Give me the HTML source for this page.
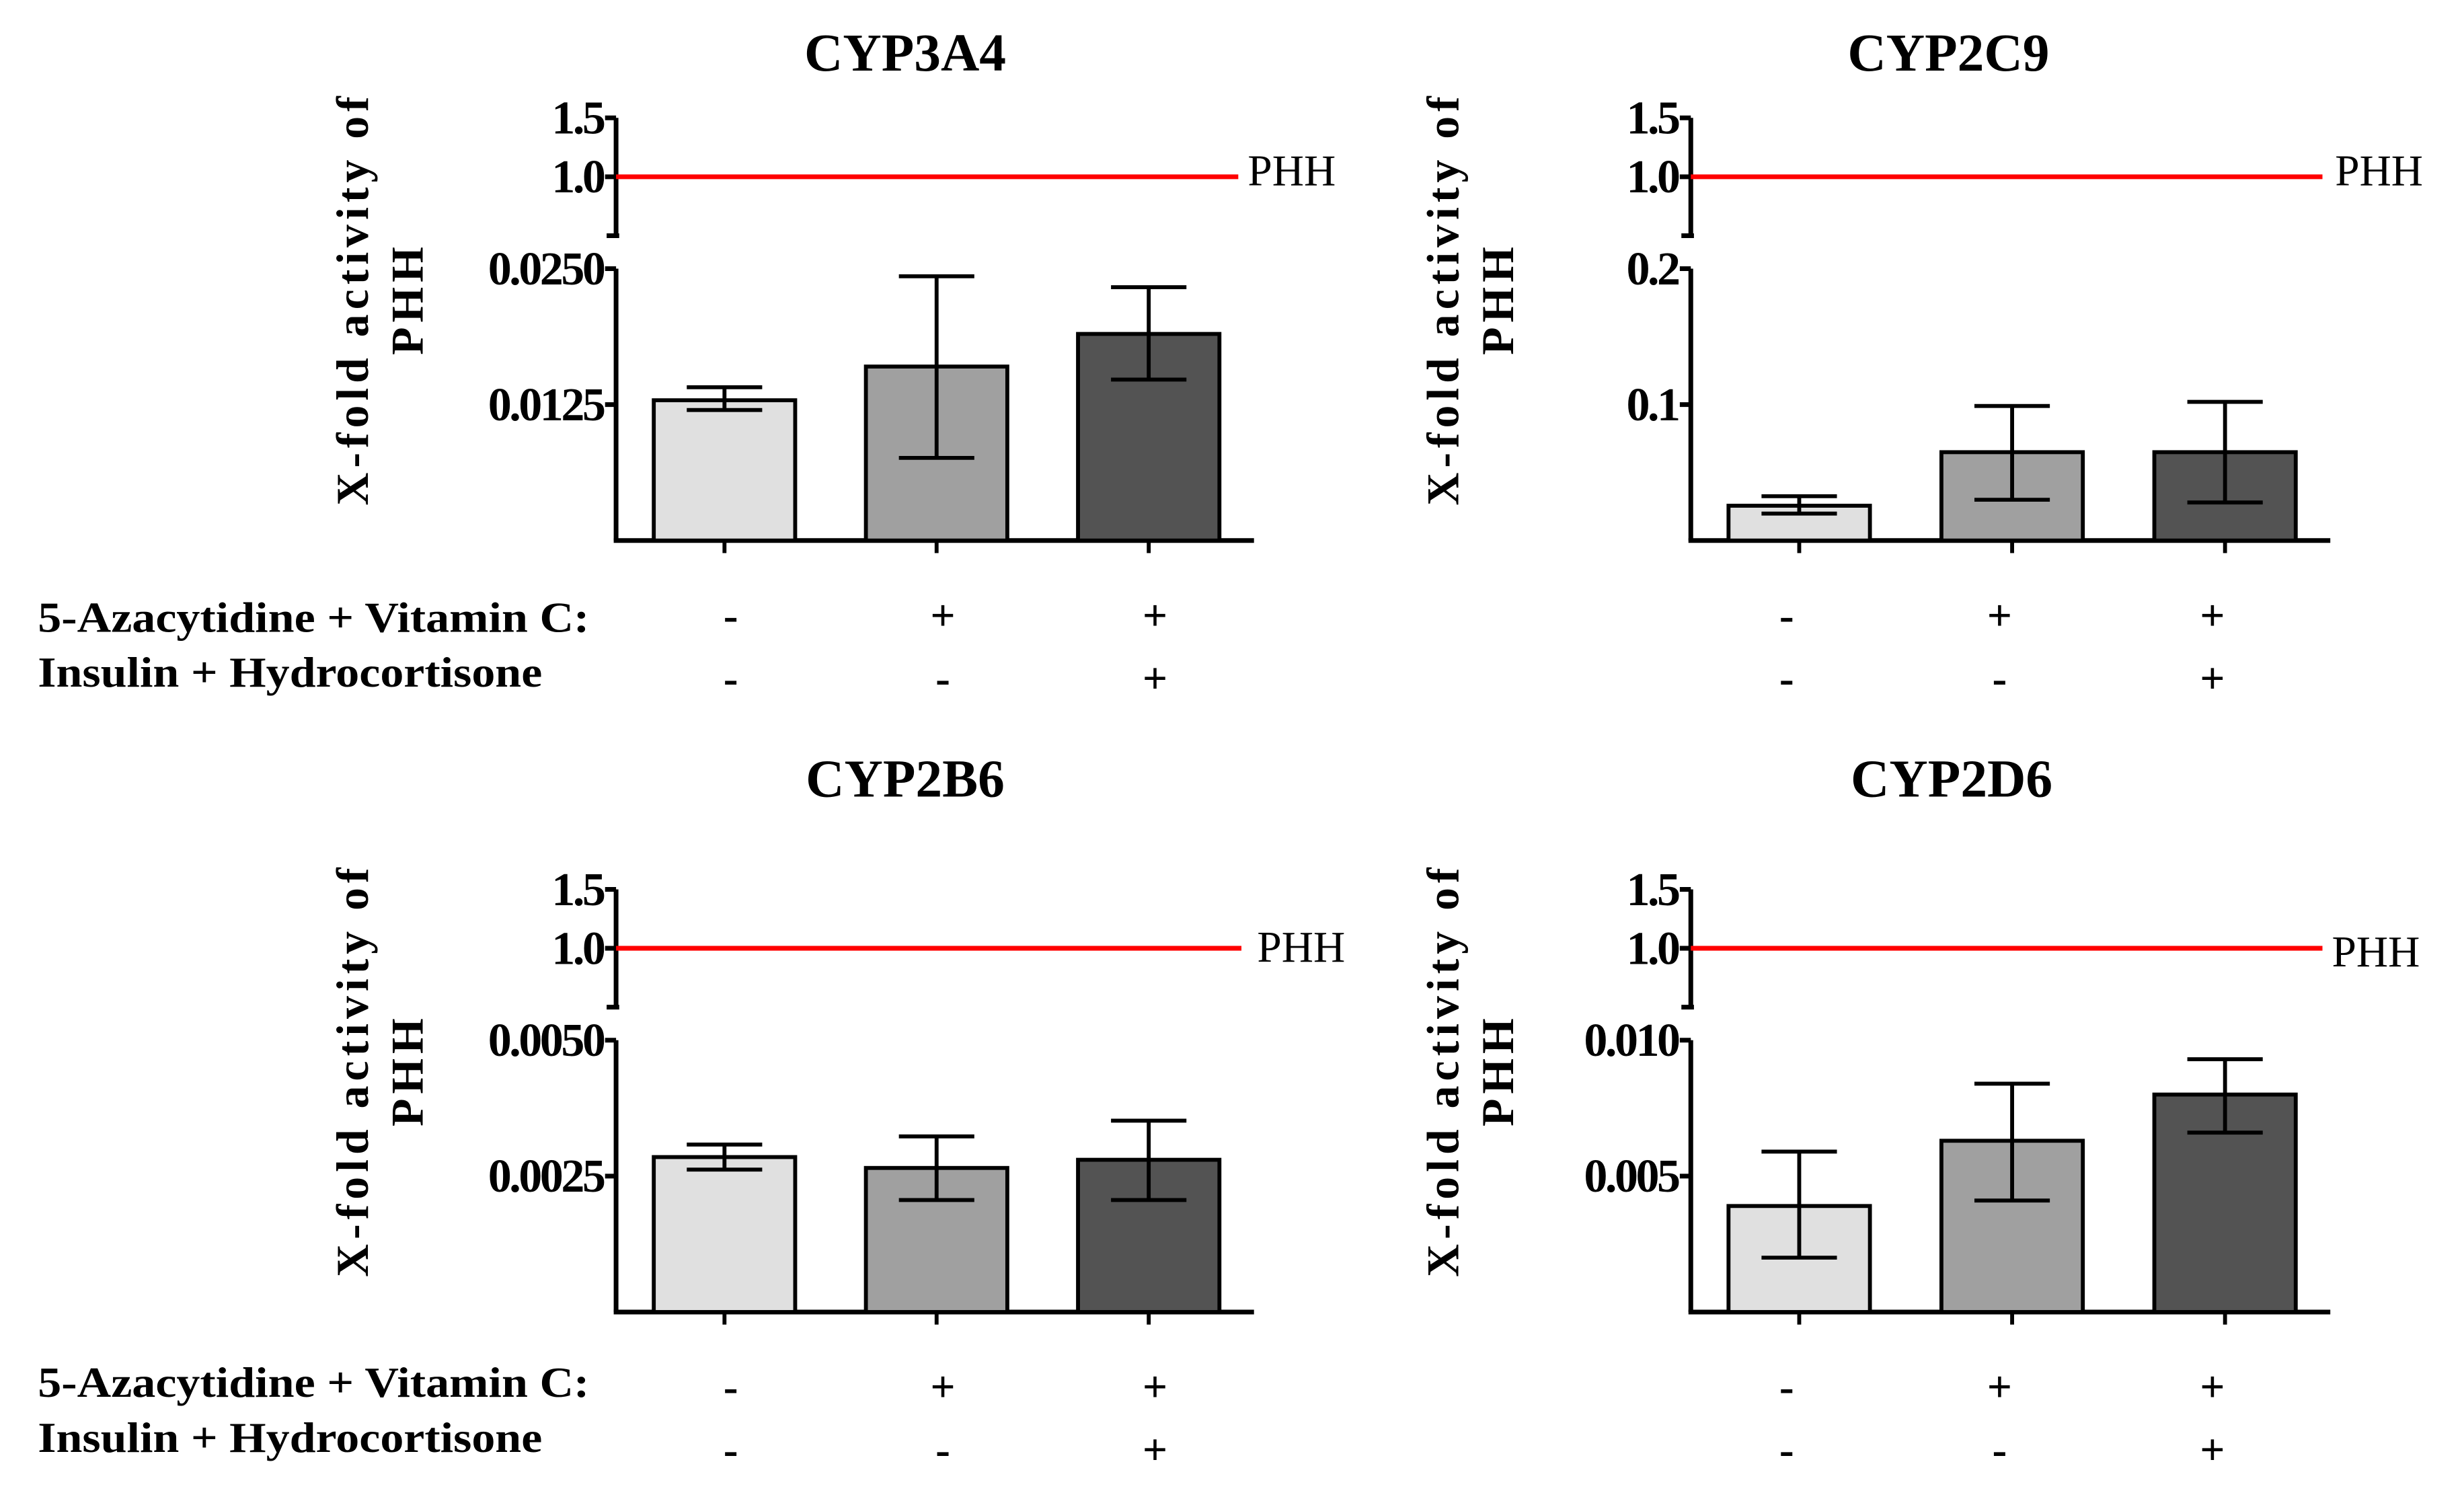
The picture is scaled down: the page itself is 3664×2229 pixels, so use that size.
<!DOCTYPE html>
<html><head><meta charset="utf-8"><style>
html,body{margin:0;padding:0;background:#fff;}
svg{display:block;}
text{font-family:"Liberation Serif",serif;}
</style></head>
<body>
<svg id="fig" width="3664" height="2229" viewBox="0 0 1568 954" xmlns="http://www.w3.org/2000/svg"></svg>
<script>
// ---- data ----
const panelTitles = ["CYP3A4","CYP2C9","CYP2B6","CYP2D6"];
const lowerMax = [0.025, 0.2, 0.005, 0.010];
const lowerTickVals = [[0.0125,0.025],[0.1,0.2],[0.0025,0.005],[0.005,0.010]];
const lowerTickLabels = [["0.0125","0.0250"],["0.1","0.2"],["0.0025","0.0050"],["0.005","0.010"]];
const upperTickVals = [1.0, 1.5];
const upperTickLabels = ["1.0","1.5"];
const phhValue = 1.0;
const meanCYP3A4 = [0.0129, 0.0160, 0.0190];
const errHiCYP3A4 = [0.0141, 0.0243, 0.0233];
const errLoCYP3A4 = [0.0120, 0.0076, 0.0148];
const meanCYP2C9 = [0.0256, 0.065, 0.065];
const errHiCYP2C9 = [0.0326, 0.099, 0.102];
const errLoCYP2C9 = [0.0198, 0.030, 0.028];
const meanCYP2B6 = [0.00285, 0.00265, 0.0028];
const errHiCYP2B6 = [0.00308, 0.00323, 0.00352];
const errLoCYP2B6 = [0.00262, 0.00206, 0.00206];
const meanCYP2D6 = [0.0039, 0.0063, 0.0080];
const errHiCYP2D6 = [0.0059, 0.0084, 0.0093];
const errLoCYP2D6 = [0.0020, 0.0041, 0.0066];
const azaSigns = ["-","+","+"];
const insSigns = ["-","-","+"];
const means = [meanCYP3A4, meanCYP2C9, meanCYP2B6, meanCYP2D6];
const errHi = [errHiCYP3A4, errHiCYP2C9, errHiCYP2B6, errHiCYP2D6];
const errLo = [errLoCYP3A4, errLoCYP2C9, errLoCYP2B6, errLoCYP2D6];

// ---- layout ----
const NS = "http://www.w3.org/2000/svg";
const svg = document.getElementById('fig');
const fills = ["#e0e0e0","#a0a0a0","#535353"];
const layouts = [
  {ax:392, xr:798, dy:0, red:788, phhx:794, phhy:118, tx:576, ty:45, yl:234, so:4},
  {ax:1076, xr:1483, dy:0, red:1478, phhx:1486, phhy:118, tx:1240, ty:45, yl:928, so:-8},
  {ax:392, xr:798, dy:491, red:790, phhx:800, phhy:612, tx:576, ty:507, yl:234, so:4},
  {ax:1076, xr:1483, dy:491, red:1478, phhx:1484, phhy:615, tx:1242, ty:507, yl:928, so:-8}
];
function mk(tag, attrs, parent, name){
  const e = document.createElementNS(NS, tag);
  for (const k in attrs) e.setAttribute(k, attrs[k]);
  
  
  (parent||svg).appendChild(e);
  return e;
}
function txt(s, attrs, parent, name){ const e = mk('text', attrs, parent, name); e.textContent = s; return e; }

layouts.forEach((L, p) => {
  const g = mk('g', {}, svg, 'panel-' + panelTitles[p].toLowerCase());
  const dy = L.dy;
  const upTop = 75+dy, upBot = 150+dy;
  const yUp = v => upBot - (v-0.5)/1.0*(upBot-upTop);
  const loTop = 171+dy, base = 344+dy;
  const yLo = v => base - v/lowerMax[p]*(base-loTop);
  const barW = 90, span = L.xr - L.ax;
  const cx = i => L.ax + 69 + i*(span-2*69+2)/2;
  txt(panelTitles[p], {x:L.tx, y:L.ty, 'font-size':34, 'font-weight':'bold', 'text-anchor':'middle'}, g, 'chart-title');
  const yl = mk('g', {transform:`translate(${L.yl},${190+dy}) rotate(-90)`}, g, 'y-axis-title');
  txt("X-fold activity of", {x:0, y:0, 'font-size':29, 'font-weight':'bold', 'text-anchor':'middle', 'letter-spacing':3}, yl, 'y-axis-title-line1');
  txt("PHH", {x:0, y:35, 'font-size':29, 'font-weight':'bold', 'text-anchor':'middle', 'letter-spacing':3}, yl, 'y-axis-title-line2');
  mk('line', {x1:L.ax, y1:upTop, x2:L.ax, y2:upBot, stroke:'#000','stroke-width':3}, g, 'upper-y-axis');
  mk('line', {x1:L.ax-6, y1:upBot, x2:L.ax+2, y2:upBot, stroke:'#000','stroke-width':3}, g, 'upper-y-axis-end');
  upperTickVals.forEach((v,i)=>{
    mk('line', {x1:L.ax-7, y1:yUp(v), x2:L.ax, y2:yUp(v), stroke:'#000','stroke-width':3}, g, 'upper-tick');
    txt(upperTickLabels[i], {x:L.ax-8, y:yUp(v)+10, 'font-size':30, 'font-weight':'bold', 'text-anchor':'end', 'letter-spacing':-1.5}, g, 'upper-tick-label');
  });
  mk('line', {x1:L.ax, y1:yUp(phhValue), x2:L.red, y2:yUp(phhValue), stroke:'#ff0000','stroke-width':3}, g, 'phh-reference-line');
  txt("PHH", {x:L.phhx, y:L.phhy, 'font-size':28}, g, 'phh-label');
  mk('line', {x1:L.ax, y1:loTop, x2:L.ax, y2:base, stroke:'#000','stroke-width':3}, g, 'lower-y-axis');
  mk('line', {x1:L.ax-1.5, y1:base, x2:L.xr, y2:base, stroke:'#000','stroke-width':3}, g, 'x-axis');
  lowerTickVals[p].forEach((v,i)=>{
    mk('line', {x1:L.ax-7, y1:yLo(v), x2:L.ax, y2:yLo(v), stroke:'#000','stroke-width':3}, g, 'lower-tick');
    txt(lowerTickLabels[p][i], {x:L.ax-8, y:yLo(v)+10, 'font-size':30, 'font-weight':'bold', 'text-anchor':'end', 'letter-spacing':-1.5}, g, 'lower-tick-label');
  });
  means[p].forEach((m,i)=>{
    const c = cx(i);
    mk('rect', {x:c-barW/2, y:yLo(m), width:barW, height:base-yLo(m), fill:fills[i], stroke:'#000','stroke-width':2.5}, g, 'bar-' + (i+1));
    mk('line', {x1:c, y1:yLo(errHi[p][i]), x2:c, y2:yLo(errLo[p][i]), stroke:'#000','stroke-width':2.5}, g, 'error-bar');
    mk('line', {x1:c-24, y1:yLo(errHi[p][i]), x2:c+24, y2:yLo(errHi[p][i]), stroke:'#000','stroke-width':2.5}, g, 'error-cap-top');
    mk('line', {x1:c-24, y1:yLo(errLo[p][i]), x2:c+24, y2:yLo(errLo[p][i]), stroke:'#000','stroke-width':2.5}, g, 'error-cap-bottom');
    mk('line', {x1:c, y1:base, x2:c, y2:base+8, stroke:'#000','stroke-width':2.5}, g, 'x-tick');
    txt(azaSigns[i], {x:c+L.so, y:401+dy, 'font-size':28, 'font-weight':'bold', 'text-anchor':'middle'}, g, 'aza-vitc-sign');
    txt(insSigns[i], {x:c+L.so, y:441+dy, 'font-size':28, 'font-weight':'bold', 'text-anchor':'middle'}, g, 'insulin-hc-sign');
  });
});
[0,487].forEach((dy,k)=>{
  txt("5-Azacytidine + Vitamin C:", {x:24, y:402+dy, 'font-size':27, 'font-weight':'bold', textLength:351, lengthAdjust:'spacingAndGlyphs'}, svg, 'row-label-azacytidine-vitamin-c');
  txt("Insulin + Hydrocortisone", {x:24, y:437+dy, 'font-size':27, 'font-weight':'bold', textLength:321, lengthAdjust:'spacingAndGlyphs'}, svg, 'row-label-insulin-hydrocortisone');
});
</script>
</body></html>
